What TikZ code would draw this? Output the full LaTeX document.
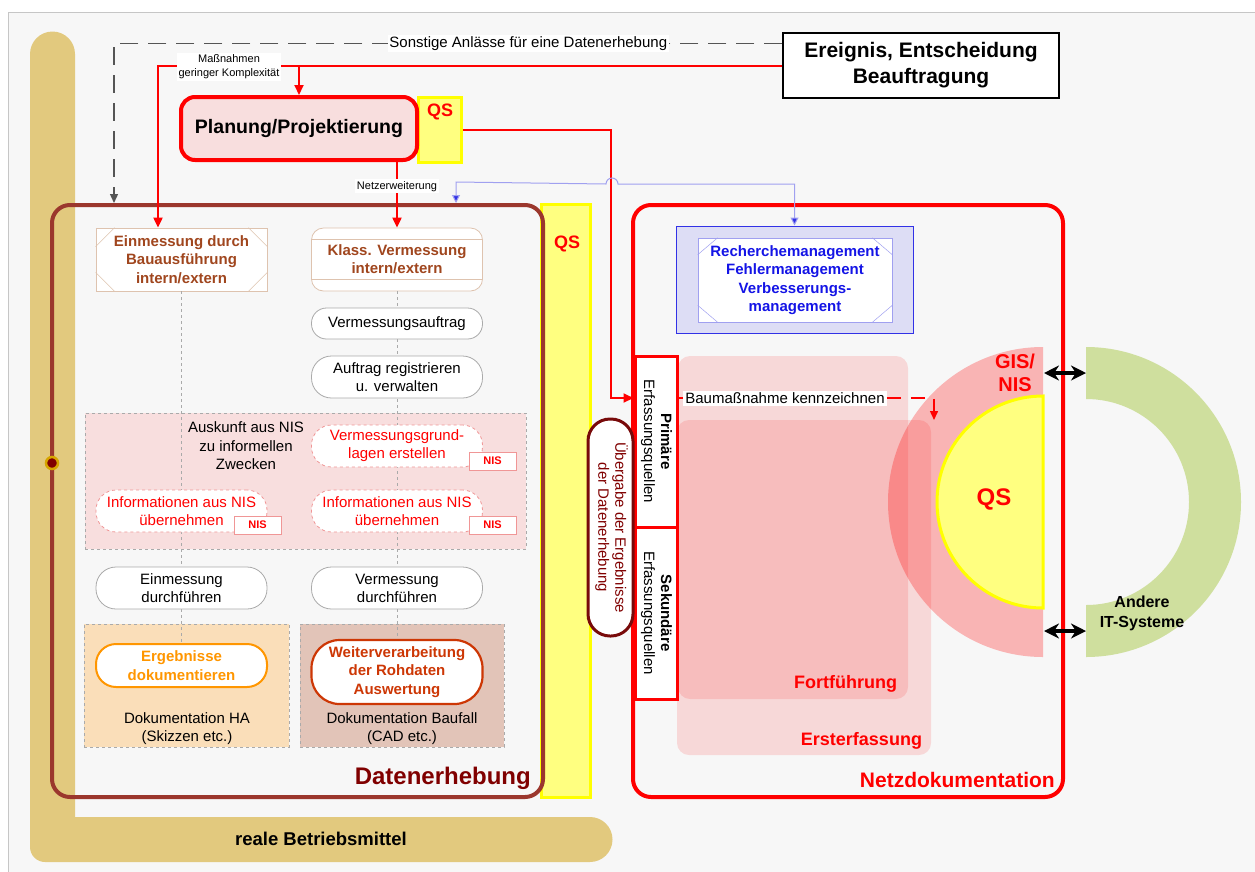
\documentclass[tikz,border=0pt]{standalone}
\usepackage{fontspec}
\setmainfont{Liberation Sans}
\usepackage{graphicx}
\usetikzlibrary{arrows.meta,calc}
\definecolor{bg}{RGB}{247,247,247}
\definecolor{tanc}{RGB}{226,201,126}
\definecolor{pinkreg}{RGB}{248,222,222}
\definecolor{orangereg}{RGB}{250,222,185}
\definecolor{brownreg}{RGB}{226,196,184}
\definecolor{datred}{RGB}{155,55,45}
\definecolor{darkred}{RGB}{128,0,0}
\definecolor{uebred}{RGB}{120,10,10}
\definecolor{brtxt}{RGB}{160,70,30}
\definecolor{brline}{RGB}{222,195,175}
\definecolor{stadgray}{RGB}{170,170,170}
\definecolor{pinkline}{RGB}{240,150,150}
\definecolor{qsfill}{RGB}{255,255,128}
\definecolor{qsline}{RGB}{255,255,0}
\definecolor{lav}{RGB}{221,221,245}
\definecolor{bluel}{RGB}{50,50,230}
\definecolor{bluetxt}{RGB}{20,20,230}
\definecolor{lightblue}{RGB}{160,160,240}
\definecolor{greenc}{RGB}{207,223,158}
\definecolor{orangec}{RGB}{255,150,0}
\definecolor{weic}{RGB}{205,55,5}
\definecolor{dashgray}{RGB}{85,85,85}
\definecolor{gold}{RGB}{215,165,0}
\newcommand\myfs[2]{\fontsize{#1}{#2}\selectfont}
\begin{document}
\begin{tikzpicture}[x=1pt,y=-1pt,
  stad/.style={draw=stadgray, line width=0.8pt, fill=white, rounded corners=20pt, minimum width=171pt, minimum height=42pt, align=center, inner sep=0pt, font=\myfs{15}{18}},
  redstad/.style={stad, draw=pinkline, dashed, text=red},
  nistag/.style={draw=pinkline, line width=0.8pt, fill=white, minimum width=47pt, minimum height=18pt, inner sep=0pt, text=red, font=\bfseries\myfs{11}{13}},
  region/.style={draw=stadgray, dashed, line width=0.6pt, inner sep=0pt},
  vdash/.style={draw=stadgray, dashed, line width=0.6pt},
  redarrow/.style={draw=red, line width=2pt, -{Triangle[length=10pt,width=9pt]}},
  redln/.style={draw=red, line width=2pt},
  smalllab/.style={fill=white, inner sep=2pt, align=center, font=\myfs{11}{14}},
  bevel/.style={draw=brline, line width=0.6pt},
  plain/.style={inner sep=0pt, align=center},
  dblarrow/.style={{Stealth[length=15pt,width=15pt]}-{Stealth[length=15pt,width=15pt]}, line width=3.5pt}
]
\useasboundingbox (0,0) rectangle (1255,871);
\fill[white] (0,0) rectangle (1255,871);
\filldraw[fill=bg, draw=gray!45, line width=1pt] (8,12) rectangle (1262,880);

% tan L-shape
\fill[tanc] (30,54) arc[start angle=180,end angle=0,radius=22.5pt] -- (75,817) -- (590,817) arc[start angle=90,end angle=-90,radius=22.5pt] -- (45,862) arc[start angle=270,end angle=180,radius=15pt] -- cycle;
\node[plain, font=\bfseries\myfs{18.5}{20}] (reale) at (321,839) {reale Betriebsmittel};

% yellow QS bar
\node[draw=qsline, fill=qsfill, line width=3pt, minimum width=49pt, minimum height=593pt, inner sep=0pt] (qsb) at (565.5,500.5) {};
\node[plain, text=red, font=\bfseries\myfs{18}{20}] (qsbt) at (567,244) {QS};

% Ereignis
\node[draw=black, fill=white, line width=1.5pt, minimum width=276pt, minimum height=65pt, align=center, inner sep=0pt, font=\bfseries\myfs{21}{26}] (ereig) at (921,65.5) {Ereignis, Entscheidung\\Beauftragung};

% Planung + QS
\node[draw=qsline, fill=qsfill, line width=3pt, minimum width=43pt, minimum height=65pt, inner sep=0pt] (qsa) at (439.5,129.5) {};
\node[plain, text=red, font=\bfseries\myfs{18}{20}] (qsat) at (440,112) {QS};
\node[draw=red, fill=pinkreg, line width=4pt, rounded corners=14pt, minimum width=236pt, minimum height=63pt, inner sep=0pt, font=\bfseries\myfs{19.5}{22}] (plan) at (299,128.5) {Planung/Projektierung};

% Datenerhebung regions
\node[region, fill=pinkreg, minimum width=441pt, minimum height=136pt] (nisreg) at (305.5,481) {};
\node[region, fill=orangereg, minimum width=205pt, minimum height=123pt] (doha) at (186.5,685.5) {};
\node[region, fill=brownreg, minimum width=204pt, minimum height=123pt] (dobf) at (402,685.5) {};

% boxes
\node[draw=brline, fill=white, line width=0.8pt, minimum width=171pt, minimum height=63pt, inner sep=0pt, align=center, text=brtxt, font=\bfseries\myfs{15}{18.3}] (einm) at (181.5,259.5) {Einmessung durch\\Bauausführung\\intern/extern};
\node[draw=brline, fill=white, line width=0.8pt, rounded corners=12pt, minimum width=171pt, minimum height=63pt, inner sep=0pt, align=center, text=brtxt, font=\bfseries\myfs{15}{18.3}] (klass) at (397,259.5) {Klass. Vermessung\\intern/extern};
\node[stad, draw=orangec, line width=2pt, text=orangec, font=\bfseries\myfs{15}{18.3}, minimum height=43pt] (erg) at (181.5,665.5) {Ergebnisse\\dokumentieren};
\node[stad, draw=weic, line width=2.2pt, text=weic, font=\bfseries\myfs{15}{18.3}, minimum height=64pt, rounded corners=28pt] (wei) at (397,672) {Weiterverarbeitung\\der Rohdaten\\Auswertung};

\draw[vdash] (einm.south) -- (erg.north);
\draw[vdash] (klass.south) -- (wei.north);

\draw[bevel] ($(einm.north west)+(0,19)$) -- ($(einm.north west)+(19,0)$);
\draw[bevel] ($(einm.north east)+(0,19)$) -- ($(einm.north east)+(-19,0)$);
\draw[bevel] ($(einm.south west)+(0,-19)$) -- ($(einm.south west)+(19,0)$);
\draw[bevel] ($(einm.south east)+(0,-19)$) -- ($(einm.south east)+(-19,0)$);
\draw[bevel] ($(klass.north west)+(0,12)$) -- ($(klass.north east)+(0,12)$);
\draw[bevel] ($(klass.south west)+(0,-12)$) -- ($(klass.south east)+(0,-12)$);

\node[stad, minimum height=31pt, rounded corners=15pt] (vauf) at (397,323.5) {Vermessungsauftrag};
\node[stad] (areg) at (397,377) {Auftrag registrieren\\u. verwalten};
\node[plain, font=\myfs{15}{18.5}] (ausk) at (246,446) {Auskunft aus NIS\\zu informellen\\Zwecken};
\node[redstad] (vgr) at (397,446) {Vermessungsgrund-\\lagen erstellen};
\node[nistag] (nis1) at (492.5,461) {NIS};
\node[redstad] (infl) at (181.5,511) {Informationen aus NIS\\übernehmen};
\node[nistag] (nis2) at (257.5,525) {NIS};
\node[redstad] (infr) at (397,511) {Informationen aus NIS\\übernehmen};
\node[nistag] (nis3) at (492.5,525) {NIS};
\node[stad] (edf) at (181.5,588) {Einmessung\\durchführen};
\node[stad] (vdf) at (397,588) {Vermessung\\durchführen};
\node[plain, font=\myfs{15}{18}] (dtha) at (187,729) {Dokumentation HA\\(Skizzen etc.)};
\node[plain, font=\myfs{15}{18}] (dtbf) at (402,729) {Dokumentation Baufall\\(CAD etc.)};

% Datenerhebung frame
\node[draw=datred, line width=4pt, rounded corners=18pt, minimum width=491pt, minimum height=592pt, inner sep=0pt] (dat) at (297.5,501) {};
\node[anchor=east, inner sep=0pt, text=darkred, font=\bfseries\myfs{24}{26}] (datl) at ($(dat.south east)+(-14,-21)$) {Datenerhebung};
\node[circle, fill=darkred, draw=gold, line width=2.5pt, minimum size=12pt, inner sep=0pt] (knot) at (52,463) {};

% Netzdokumentation
\node[fill=red, fill opacity=0.12, rounded corners=12pt, minimum width=230pt, minimum height=343pt, inner sep=0pt] (fort) at (793,527.5) {};
\node[fill=red, fill opacity=0.12, rounded corners=12pt, minimum width=254pt, minimum height=335pt, inner sep=0pt] (erst) at (804,587.5) {};
\node[anchor=east, inner sep=0pt, text=red, font=\bfseries\myfs{18}{20}] (fortl) at ($(fort.south east)+(-11,-15)$) {Fortführung};
\node[anchor=east, inner sep=0pt, text=red, font=\bfseries\myfs{18}{20}] (erstl) at ($(erst.south east)+(-9,-14)$) {Ersterfassung};

\fill[red, fill opacity=0.27] (1043,347) arc[start angle=90,end angle=270,radius=155pt] -- cycle;
\filldraw[fill=qsfill, draw=qsline, line width=3pt] (1043,396) arc[start angle=90,end angle=270,radius=106pt] -- cycle;
\node[plain, text=red, font=\bfseries\myfs{24}{26}] (qsc) at (994,499) {QS};
\node[plain, text=red, font=\bfseries\myfs{20}{23}] (gis) at (1015,373) {GIS/\\NIS};
\fill[greenc] (1086,347) arc[start angle=90,end angle=-90,radius=155pt] -- (1086,605) arc[start angle=-90,end angle=90,radius=103pt] -- cycle;
\node[plain, font=\bfseries\myfs{16}{20}] (itsys) at (1142,613) {Andere\\IT-Systeme};

\node[draw=red, line width=4pt, rounded corners=18pt, minimum width=430pt, minimum height=592pt, inner sep=0pt] (netz) at (848,501) {};
\node[anchor=east, inner sep=0pt, text=red, font=\bfseries\myfs{21}{23}] (netzl) at ($(netz.south east)+(-10,-19)$) {Netzdokumentation};

\coordinate (gisA) at (1044,373);
\coordinate (itA) at (1086,373);
\coordinate (gisB) at (1044,631);
\coordinate (itB) at (1086,631);
\draw[dblarrow] (gisA) -- (itA);
\draw[dblarrow] (gisB) -- (itB);

\node[draw=bluel, fill=lav, line width=1pt, minimum width=237pt, minimum height=107pt, inner sep=0pt] (rechbg) at (794.5,279.5) {};
\node[draw=lightblue, fill=white, line width=0.6pt, minimum width=194pt, minimum height=84pt, inner sep=0pt, align=center, text=bluetxt, font=\bfseries\myfs{15}{18.3}] (rech) at (795,280) {Recherchemanagement\\Fehlermanagement\\Verbesserungs-\\management};
\draw[draw=lightblue, line width=0.5pt] ($(rech.north west)+(0,17)$) -- ($(rech.north west)+(20,0)$);
\draw[draw=lightblue, line width=0.5pt] ($(rech.north east)+(0,17)$) -- ($(rech.north east)+(-20,0)$);
\draw[draw=lightblue, line width=0.5pt] ($(rech.south west)+(0,-17)$) -- ($(rech.south west)+(20,0)$);
\draw[draw=lightblue, line width=0.5pt] ($(rech.south east)+(0,-17)$) -- ($(rech.south east)+(-20,0)$);

\node[draw=red, fill=white, line width=3pt, minimum width=42pt, minimum height=171pt, inner sep=0pt, font=\myfs{15}{17}] (prim) at (656,441.5) {\rotatebox{-90}{\begin{tabular}{@{}c@{}}\bfseries Primäre\\Erfassungsquellen\end{tabular}}};
\node[draw=red, fill=white, line width=3pt, minimum width=42pt, minimum height=172pt, inner sep=0pt, font=\myfs{15}{17}] (sek) at (656,613) {\rotatebox{-90}{\begin{tabular}{@{}c@{}}\bfseries Sekundäre\\Erfassungsquellen\end{tabular}}};
\node[draw=uebred, fill=white, line width=3pt, rounded corners=22pt, minimum width=45pt, minimum height=217pt, inner sep=0pt, text=darkred, font=\myfs{15}{17}] (ueb) at (610.5,527.5) {\rotatebox{-90}{\begin{tabular}{@{}c@{}}Übergabe der Ergebnisse\\der Datenerhebung\end{tabular}}};

% Baumassnahme kennzeichnen
\node[fill=white, inner sep=2pt, font=\myfs{15}{17}] (baum) at (785,398) {Baumaßnahme kennzeichnen};
\draw[redln, line width=1.5pt] ($(prim.east)+(0,-43.5)$) -- (baum.west);
\coordinate (baumtgt) at (934,420);
\draw[red, line width=1.5pt, dash pattern=on 14pt off 10pt] (baum.east) -| ($(baumtgt)+(0,-12)$);
\draw[red, line width=1.5pt, -{Triangle[length=9pt,width=8pt]}] ($(baumtgt)+(0,-14)$) -- (baumtgt);

% connectors top
\coordinate (dstart) at ($(ereig.north west)+(0,11)$);
\coordinate (dend) at ($(dat.north west)+(64,0)$);
\draw[dashgray, line width=1.3pt, dash pattern=on 18pt off 10pt, -{Triangle[length=9pt,width=8pt]}] (dstart) -- node[pos=0.38, fill=white, inner sep=1.5pt, text=black, font=\myfs{15}{17}] (sonst) {Sonstige Anlässe für eine Datenerhebung} (dend |- dstart) -- (dend);
\draw[redarrow] (ereig.west) -| ($(einm.north)+(-23.5,0)$);
\draw[redarrow] (plan.north |- ereig.west) -- (plan.north);
\node[smalllab] (mass) at (229,67) {Maßnahmen\\geringer Komplexität};
\draw[redarrow] (klass.north |- plan.south) -- node[smalllab, pos=0.37] (netzerw) {Netzerweiterung} (klass.north);
\draw[redarrow] (qsa.east) -| ($(prim.west)+(-23,-43.5)$) -- ($(prim.west)+(0,-43.5)$);

% blue connector with hop
\coordinate (bhop) at (612,184);
\draw[draw=lightblue, line width=1pt, {Triangle[length=8pt,width=8pt,fill=bluel]}-{Triangle[length=8pt,width=8pt,fill=bluel]}] ($(dat.north west)+(406,0)$) -- ++(0,-21) -- ($(bhop)+(-6,0)$) arc[start angle=180,end angle=0,radius=6pt] -- (rechbg.north |- bhop) -- (rechbg.north);
\end{tikzpicture}
\end{document}
